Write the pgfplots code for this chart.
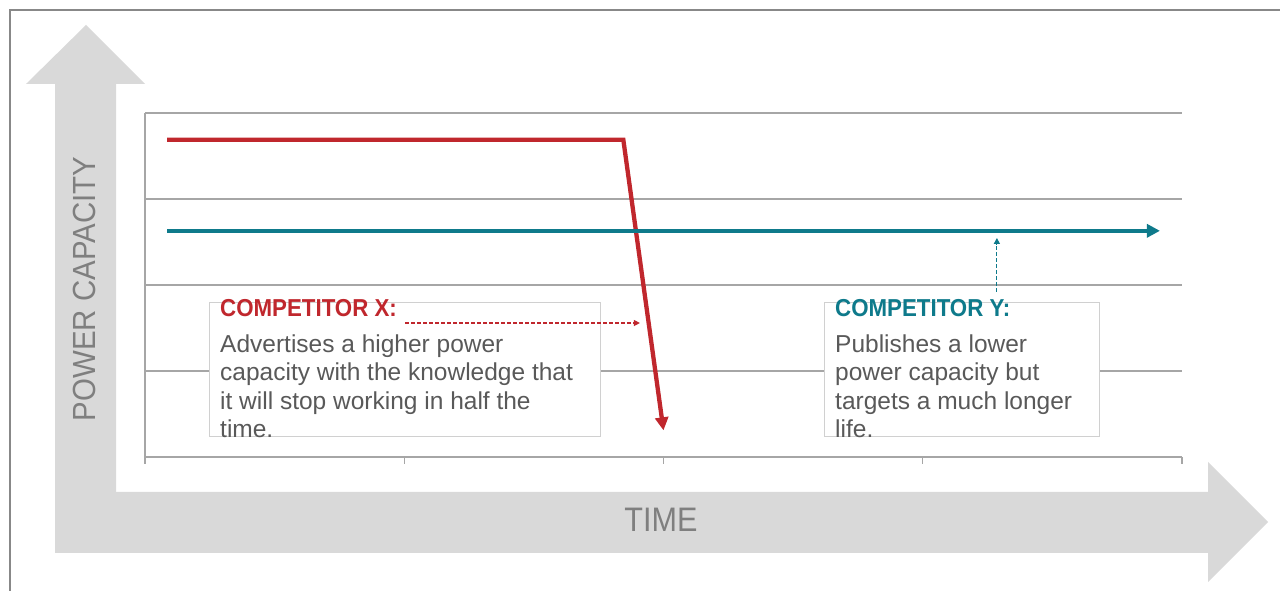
\documentclass[border=0pt]{standalone}
\usepackage{pgfplots}
\pgfplotsset{compat=1.18}
\usetikzlibrary{arrows.meta}
\usepackage{fontspec}
\setmainfont{Liberation Sans}
\definecolor{cred}{HTML}{C0272D}
\definecolor{cteal}{HTML}{0E7A8B}
\definecolor{agrey}{HTML}{D9D9D9}
\definecolor{lgrey}{HTML}{7F7F7F}
\definecolor{tgrey}{HTML}{595959}
\definecolor{ggrey}{HTML}{A6A6A6}
\definecolor{bgrey}{HTML}{D0D0D0}
\definecolor{fgrey}{HTML}{888888}
\begin{document}
\begin{tikzpicture}[x=1pt,y=1pt]
\useasboundingbox (0,0) rectangle (1280,591);
\draw[line width=2pt, fgrey] (10,0) -- (10,581) -- (1280,581);
% big background arrows
\fill[agrey] (55,99) -- (55,507) -- (26,507) -- (86,566) -- (145,507) -- (116,507) -- (116,99) -- cycle;
\fill[agrey] (55,38) -- (1208,38) -- (1208,9) -- (1268,69) -- (1208,129) -- (1208,99) -- (55,99) -- cycle;
\node[rotate=90, text=lgrey, inner sep=0pt, font=\fontsize{32}{38}\selectfont] at (84,302) {\scalebox{0.92}[1]{POWER CAPACITY}};
\node[text=lgrey, inner sep=0pt, font=\fontsize{34}{40}\selectfont] at (661,71) {\scalebox{0.9}[1]{TIME}};
\begin{axis}[
  at={(145pt,134pt)}, anchor=south west,
  scale only axis, width=1037pt, height=344pt,
  xmin=0, xmax=4, ymin=0, ymax=4,
  axis x line*=bottom, axis y line*=left,
  xtick={0,1,2,3,4}, xticklabels={},
  ytick={0,1,2,3,4}, yticklabels={},
  ymajorgrids,
  grid style={ggrey, line width=1.3pt},
  axis line style={ggrey, line width=1.3pt},
  xtick style={ggrey, line width=1.3pt},
  ytick style={draw=none},
  xtick align=outside, major tick length=7pt,
  clip=false,
]
% text boxes
\draw[bgrey, line width=1pt, fill=white] (axis cs:0.2507,0.2326) rectangle (axis cs:1.7551,1.802);
\draw[bgrey, line width=1pt, fill=white] (axis cs:2.6191,0.2326) rectangle (axis cs:3.6837,1.802);
\node[anchor=base west, inner sep=0pt, text=cred, font=\fontsize{24.5}{28}\selectfont\bfseries] at (axis cs:0.2893,1.628) {\scalebox{0.91}[1]{COMPETITOR X:}};
\node[anchor=base west, inner sep=0pt, text=tgrey, font=\fontsize{24.5}{28}\selectfont] at (axis cs:0.2893,1.215) {Advertises a higher power};
\node[anchor=base west, inner sep=0pt, text=tgrey, font=\fontsize{24.5}{28}\selectfont] at (axis cs:0.2893,0.886) {capacity with the knowledge that};
\node[anchor=base west, inner sep=0pt, text=tgrey, font=\fontsize{24.5}{28}\selectfont] at (axis cs:0.2893,0.558) {it will stop working in half the};
\node[anchor=base west, inner sep=0pt, text=tgrey, font=\fontsize{24.5}{28}\selectfont] at (axis cs:0.2893,0.229) {time.};
\node[anchor=base west, inner sep=0pt, text=cteal, font=\fontsize{24.5}{28}\selectfont\bfseries] at (axis cs:2.6615,1.628) {\scalebox{0.91}[1]{COMPETITOR Y:}};
\node[anchor=base west, inner sep=0pt, text=tgrey, font=\fontsize{24.5}{28}\selectfont] at (axis cs:2.6615,1.215) {Publishes a lower};
\node[anchor=base west, inner sep=0pt, text=tgrey, font=\fontsize{24.5}{28}\selectfont] at (axis cs:2.6615,0.886) {power capacity but};
\node[anchor=base west, inner sep=0pt, text=tgrey, font=\fontsize{24.5}{28}\selectfont] at (axis cs:2.6615,0.558) {targets a much longer};
\node[anchor=base west, inner sep=0pt, text=tgrey, font=\fontsize{24.5}{28}\selectfont] at (axis cs:2.6615,0.229) {life.};
% data lines
\addplot[cred, line width=4.3pt, line join=miter, -{Triangle[width=13pt,length=13pt]}] coordinates {(0.085,3.69) (1.845,3.69) (2.0,0.31)};
\addplot[cteal, line width=4.3pt, -{Triangle[width=13pt,length=13pt]}] coordinates {(0.085,2.63) (3.915,2.63)};
% dashed pointers
\addplot[cred, line width=1.2pt, dash pattern=on 4pt off 2pt, -{Triangle[width=6pt,length=6pt]}] coordinates {(1.003,1.558) (1.909,1.558)};
\addplot[cteal, line width=1.2pt, dash pattern=on 4pt off 2pt, -{Triangle[width=6pt,length=6pt]}] coordinates {(3.286,1.919) (3.286,2.547)};
\end{axis}
\end{tikzpicture}
\end{document}
